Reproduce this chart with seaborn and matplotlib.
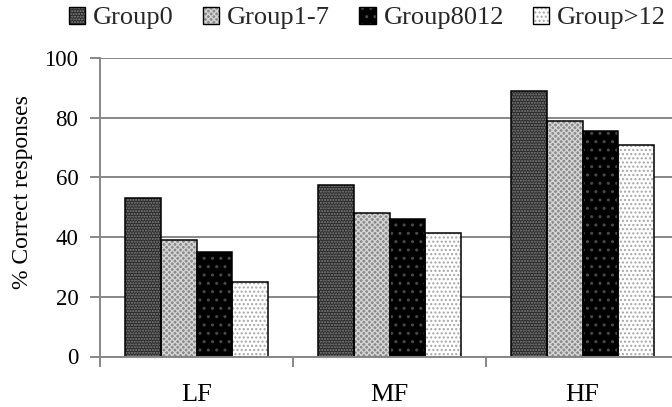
import matplotlib
matplotlib.use("Agg")
import matplotlib.pyplot as plt
from matplotlib.patches import Patch, Rectangle
from matplotlib.legend_handler import HandlerTuple
from matplotlib.ticker import FixedLocator
import pandas as pd
import seaborn as sns

# Data
conditions = ["LF", "MF", "HF"]
groups = ["Group0", "Group1-7", "Group8012", "Group>12"]
group0 = [53, 57.5, 89]
group1_7 = [39, 48, 79]
group8012 = [35, 46, 75.5]
group_gt12 = [25, 41.5, 71]
y_ticks = [0, 20, 40, 60, 80, 100]

# Fill styles per group: face colour, hatch pattern, hatch colour
face_colors = ["#2a2a2a", "#8a8a8a", "#000000", "#ffffff"]
hatches = ["......", "xxxxxx", "..", "...."]
hatch_colors = ["#858585", "#d4d4d4", "#4a4a4a", "#a5a5a5"]

df = pd.DataFrame({
    "condition": conditions * 4,
    "group": [g for g in groups for _ in conditions],
    "value": group0 + group1_7 + group8012 + group_gt12,
})

sns.set_theme(style="white")
serif = ["Liberation Serif", "DejaVu Serif"]
plt.rcParams["font.family"] = serif
plt.rcParams["hatch.linewidth"] = 1.0

fig = plt.figure(figsize=(6.72, 4.07), dpi=100)
ax = fig.add_axes([100 / 672, 1 - 356.5 / 407, 579 / 672, 298.5 / 407])

sns.barplot(data=df, x="condition", y="value", hue="group",
            order=conditions, hue_order=groups,
            palette=face_colors, width=0.74, linewidth=0,
            legend=False, ax=ax, zorder=3)

# Texture each series, then outline the bars in black
for cont, hatch, hc in zip(ax.containers, hatches, hatch_colors):
    for bar in cont:
        bar.set_hatch(hatch)
        bar.set_edgecolor(hc)
        bar.set_linewidth(0)
        x0, y0 = bar.get_xy()
        ax.add_patch(Rectangle((x0, y0), bar.get_width(), bar.get_height(),
                               fill=False, edgecolor="black", linewidth=1.1,
                               zorder=4))

grid_c = "#878787"
ax.set_ylim(0, 100)
ax.set_xlim(-0.5, 2.5)
ax.set_yticks(y_ticks)
ax.yaxis.grid(True, color=grid_c, linewidth=1.4, zorder=0)
ax.xaxis.grid(False)
for side in ["top", "right"]:
    ax.spines[side].set_visible(False)
for side in ["left", "bottom"]:
    ax.spines[side].set_color(grid_c)
    ax.spines[side].set_linewidth(1.4)
    ax.spines[side].set_zorder(5)

ax.tick_params(axis="y", which="major", left=True, length=7.5, width=1.4,
               color=grid_c, labelsize=16.5, pad=8, labelcolor="black")
ax.tick_params(axis="x", which="major", bottom=False, length=0,
               labelsize=19, pad=20, labelcolor="black")
ax.xaxis.set_minor_locator(FixedLocator([-0.5, 0.5, 1.5]))
ax.tick_params(axis="x", which="minor", bottom=True, length=7.5, width=1.4,
               color=grid_c)

ax.set_xlabel("")
ax.set_ylabel("% Correct responses", fontsize=17, color="black")
ax.yaxis.set_label_coords(-0.115, 0.55)

handles = []
for fc, hatch, hc in zip(face_colors, hatches, hatch_colors):
    handles.append((Patch(facecolor=fc, edgecolor=hc, hatch=hatch, linewidth=0),
                    Patch(facecolor="none", edgecolor="black", linewidth=1.0)))
fig.legend(handles, groups, loc="center", bbox_to_anchor=(0.547, 1 - 18 / 407),
           ncol=4, frameon=False, fontsize=19, handlelength=0.62,
           handleheight=0.62, handletextpad=0.3, columnspacing=1.1,
           borderaxespad=0,
           handler_map={tuple: HandlerTuple(ndivide=1, pad=0)})

fig.savefig("out.png", dpi=100)
